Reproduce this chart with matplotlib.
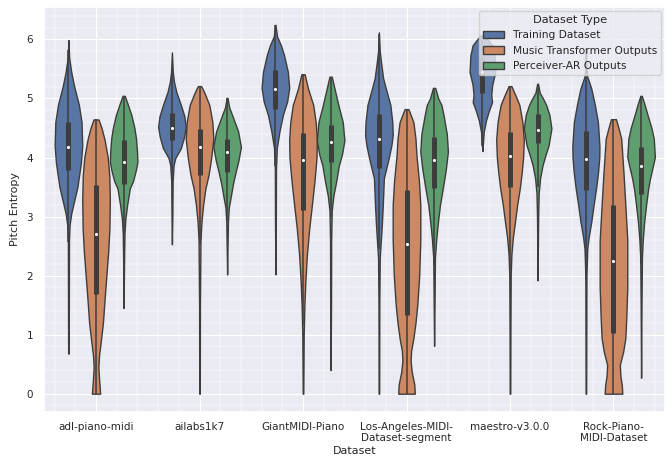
import numpy as np
import matplotlib
matplotlib.use("Agg")
import matplotlib.pyplot as plt
from matplotlib.patches import Patch
from matplotlib.ticker import AutoMinorLocator
import seaborn as sns

datasets = ["adl-piano-midi", "ailabs1k7", "GiantMIDI-Piano",
            "Los-Angeles-MIDI-\nDataset-segment", "maestro-v3.0.0",
            "Rock-Piano-\nMIDI-Dataset"]
types = ["Training Dataset", "Music Transformer Outputs", "Perceiver-AR Outputs"]

# density outlines: (pitch entropy, relative half width)
train_shapes = [
    [(5.99, 0), (5.7, .05), (5.45, .2), (5.2, .42), (4.9, .75), (4.6, .95), (4.2, 1), (3.9, .9),
     (3.5, .65), (3.2, .35), (3.05, .2), (2.85, .08), (2.6, .04), (1.5, .03), (0.68, .02)],
    [(5.78, 0), (5.45, .06), (5.28, .15), (5.11, .32), (4.89, .65), (4.7, .9), (4.52, 1), (4.35, .88),
     (4.16, .65), (3.99, .24), (3.87, .12), (3.6, .05), (3.0, .03), (2.53, 0)],
    [(6.25, 0), (6.05, .12), (5.9, .4), (5.73, .63), (5.45, .9), (5.18, 1), (4.95, .85), (4.72, .54),
     (4.44, .29), (4.16, .1), (3.8, .04), (3.0, .03), (2.02, 0)],
    [(6.12, 0), (5.8, .06), (5.62, .15), (5.35, .3), (5.17, .5), (4.89, .83), (4.6, .97), (4.38, 1),
     (4.2, .9), (3.99, .71), (3.65, .36), (3.19, .28), (2.9, .22), (2.63, .15), (2.3, .06),
     (1.5, .03), (0.0, .02)],
    [(6.07, .12), (5.98, .45), (5.9, .71), (5.73, .87), (5.45, .93), (5.23, .71), (5.06, .64),
     (4.94, .7), (4.77, .44), (4.63, .26), (4.44, .1), (4.25, .04), (4.11, 0)],
    [(5.85, 0), (5.5, .05), (5.37, .1), (5.17, .39), (4.89, .65), (4.6, .87), (4.2, .98), (4.0, .97),
     (3.75, .88), (3.48, .74), (3.2, .56), (2.91, .39), (2.65, .2), (2.46, .1), (2.0, .04),
     (1.0, .03), (0.0, .02)],
]
mt_shapes = [
    [(4.645, .18), (4.5, .4), (4.3, .62), (4.0, .85), (3.7, .96), (3.3, 1), (2.8, .97), (2.4, .88),
     (2.0, .75), (1.6, .62), (1.2, .5), (0.9, .35), (0.65, .22), (0.45, .17), (0.25, .22), (0.0, .3)],
    [(5.21, .12), (5.1, .35), (4.89, .71), (4.6, .93), (4.32, 1), (4.0, .85), (3.7, .65), (3.48, .43),
     (3.2, .26), (2.91, .14), (2.6, .07), (1.5, .03), (0.0, .02)],
    [(5.41, .12), (5.17, .36), (4.89, .74), (4.6, .92), (4.3, 1), (4.0, .98), (3.6, .83), (3.19, .64),
     (2.8, .45), (2.35, .28), (1.9, .17), (1.5, .1), (1.0, .05), (0.0, .02)],
    [(4.82, .14), (4.6, .5), (4.32, .65), (4.04, .72), (3.6, .9), (3.2, 1), (2.6, 1), (2.0, .92),
     (1.5, .78), (1.2, .65), (0.94, .5), (0.72, .33), (0.55, .3), (0.37, .38), (0.15, .57), (0.0, .6)],
    [(5.21, .1), (5.05, .4), (4.89, .68), (4.6, .9), (4.3, 1), (4.0, .95), (3.75, .85), (3.48, .71),
     (3.2, .52), (2.91, .36), (2.63, .2), (2.35, .1), (2.0, .05), (1.0, .03), (0.0, .02)],
    [(4.65, .18), (4.45, .42), (4.32, .56), (3.76, .72), (3.19, .86), (2.6, 1), (1.8, 1), (1.3, .93),
     (0.94, .86), (0.71, .7), (0.49, .46), (0.3, .5), (0.15, .6), (0.0, .64)],
]
par_shapes = [
    [(5.045, .08), (4.9, .3), (4.72, .56), (4.5, .78), (4.32, .9), (4.1, .97), (3.93, 1), (3.8, .9),
     (3.6, .68), (3.48, .45), (3.19, .25), (2.95, .12), (2.7, .06), (2.2, .03), (1.45, 0)],
    [(5.01, .03), (4.85, .15), (4.72, .36), (4.44, .8), (4.18, 1), (3.95, .82), (3.76, .62),
     (3.55, .42), (3.36, .28), (3.15, .12), (2.9, .06), (2.5, .03), (2.02, 0)],
    [(5.37, .08), (5.15, .3), (4.89, .56), (4.6, .88), (4.29, 1), (4.05, .82), (3.87, .6), (3.59, .4),
     (3.35, .2), (3.1, .08), (2.6, .04), (1.5, .03), (0.4, 0)],
    [(5.18, .08), (5.0, .3), (4.89, .53), (4.72, .68), (4.4, .92), (4.1, 1), (3.8, .85), (3.48, .63),
     (3.19, .42), (2.91, .28), (2.63, .16), (2.3, .06), (1.5, .03), (0.81, 0)],
    [(5.25, .03), (5.1, .15), (5.0, .39), (4.89, .62), (4.72, .86), (4.49, 1), (4.21, .8), (4.05, .58),
     (3.87, .36), (3.65, .18), (3.4, .08), (3.0, .04), (1.92, 0)],
    [(5.045, .05), (4.9, .25), (4.72, .47), (4.5, .75), (4.32, .92), (4.01, 1), (3.85, .85),
     (3.65, .65), (3.45, .5), (3.19, .36), (2.9, .22), (2.6, .12), (2.3, .06), (1.5, .03), (0.27, 0)],
]

# quartiles
train_q1 = [3.79, 4.29, 4.83, 3.82, 5.09, 3.45]
train_med = [4.18, 4.50, 5.16, 4.32, 5.45, 3.97]
train_q3 = [4.60, 4.75, 5.48, 4.73, 5.69, 4.45]
mt_q1 = [1.69, 3.70, 3.11, 1.33, 3.50, 1.02]
mt_med = [2.70, 4.18, 3.96, 2.53, 4.03, 2.25]
mt_q3 = [3.53, 4.48, 4.41, 3.45, 4.44, 3.19]
par_q1 = [3.56, 3.76, 3.93, 3.48, 4.24, 3.39]
par_med = [3.92, 4.09, 4.26, 3.96, 4.46, 3.85]
par_q3 = [4.29, 4.32, 4.55, 4.35, 4.73, 4.18]

sns.set_theme(style="darkgrid")
plt.rcParams["font.family"] = ["DejaVu Sans"]
pal = [sns.desaturate(c, 0.75) for c in sns.color_palette("deep", 3)]
gray = "#3d3d3d"

fig = plt.figure(figsize=(6.71, 4.57), dpi=100)
ax = fig.add_axes([0.066, 0.0985, 0.9254, 0.8862])

all_shapes = [train_shapes, mt_shapes, par_shapes]
all_q1 = [train_q1, mt_q1, par_q1]
all_med = [train_med, mt_med, par_med]
all_q3 = [train_q3, mt_q3, par_q3]
w = 0.8 / 3

for h in range(3):
    for i in range(len(datasets)):
        pos = i + (h - 1) * w
        ys = np.array([p[0] for p in all_shapes[h][i]])[::-1]
        vs = np.array([p[1] for p in all_shapes[h][i]])[::-1]
        st = dict(coords=ys, vals=vs, mean=all_med[h][i], median=all_med[h][i],
                  min=ys.min(), max=ys.max())
        parts = ax.violin([st], positions=[pos], widths=w * vs.max(),
                          showextrema=False)
        for b in parts["bodies"]:
            b.set_facecolor(pal[h])
            b.set_edgecolor(gray)
            b.set_linewidth(1.0)
            b.set_alpha(1)
            b.set_zorder(2)
        q1, q3 = all_q1[h][i], all_q3[h][i]
        iqr = q3 - q1
        lo = max(q1 - 1.5 * iqr, ys.min())
        hi = min(q3 + 1.5 * iqr, ys.max())
        ax.plot([pos, pos], [lo, hi], color=gray, lw=1.1, zorder=3, solid_capstyle="butt")
        ax.plot([pos, pos], [q1, q3], color=gray, lw=3.6, zorder=3, solid_capstyle="butt")
        ax.scatter([pos], [all_med[h][i]], s=5, color="white", zorder=4, linewidths=0)

ax.set_xlim(-0.5, 5.5)
ax.set_ylim(-0.31, 6.55)
ax.set_xticks(range(len(datasets)))
ax.set_xticklabels(datasets, fontsize=7.5)
ax.set_yticks(range(7))
ax.tick_params(axis="y", labelsize=7.5)
ax.xaxis.set_minor_locator(AutoMinorLocator(5))
ax.yaxis.set_minor_locator(AutoMinorLocator(5))
ax.tick_params(which="both", length=0)
ax.tick_params(axis="x", pad=7)
ax.tick_params(axis="y", pad=8)
ax.grid(which="major", color="white", lw=0.8)
ax.grid(which="minor", color="white", lw=0.35)
ax.set_axisbelow(True)
ax.set_xlabel("Dataset", fontsize=8, labelpad=2)
ax.set_ylabel("Pitch Entropy", fontsize=8, labelpad=5)

handles = [Patch(facecolor=pal[k], edgecolor=gray, label=types[k]) for k in range(3)]
ax.legend(handles=handles, title="Dataset Type", loc="upper right", fontsize=7.7,
          title_fontsize=8.2, borderaxespad=0.35)

fig.savefig("out.png", dpi=100)
